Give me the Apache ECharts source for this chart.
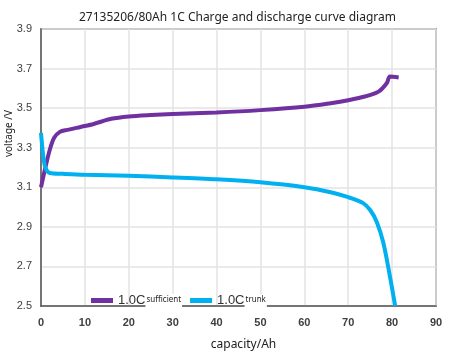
<!DOCTYPE html>
<html><head><meta charset="utf-8">
<script src="https://cdn.jsdelivr.net/npm/echarts@6/dist/echarts.min.js"></script>
<style>html,body{margin:0;padding:0;background:#fff}#c{width:453px;height:358px}</style>
</head><body><div id="c"></div>
<script>
const titleText = '27135206/80Ah 1C Charge and discharge curve diagram';
const xName = 'capacity/Ah';
const yName = 'voltage /V';
const xTicks = [0,10,20,30,40,50,60,70,80,90];
const yTicks = [2.5,2.7,2.9,3.1,3.3,3.5,3.7,3.9];
const chargeName = '1.0C sufficient';
const dischargeName = '1.0C trunk';
const chargeCap  = [0,1,2,3,4.3,6,9,12,16,20,25,30,40,50,60,66,70,74,77,78.8,79.5,81.5];
const chargeVolt = [3.10,3.20,3.29,3.35,3.38,3.39,3.405,3.42,3.446,3.458,3.465,3.47,3.478,3.49,3.507,3.525,3.54,3.56,3.585,3.627,3.66,3.655];
const dischargeCap  = [0,0.5,1,2,5,10,20,30,40,50,60,66,70,73.4,75,76.5,78,79.5,80.7];
const dischargeVolt = [3.375,3.26,3.20,3.172,3.168,3.163,3.158,3.15,3.14,3.125,3.10,3.075,3.05,3.02,2.985,2.925,2.82,2.65,2.5];

const zip = (a,b) => a.map((v,i)=>[v,b[i]]);
const chart = echarts.init(document.getElementById('c'));
const legendFmt = n => { const p = n.split(' '); return '{a|' + p[0] + '}{b|' + p[1] + '}'; };
chart.setOption({
  animation:false,
  textStyle:{fontFamily:'Noto Sans'},
  title:{text:titleText,left:79,top:9,padding:[3,10,4,0],backgroundColor:'#fff',
    textStyle:{fontSize:12,fontWeight:'normal',color:'#222',fontFamily:'Noto Sans'}},
  grid:{left:41,right:17,top:29,bottom:52,show:true,borderColor:'#595959',borderWidth:1.5,backgroundColor:'#fff'},
  legend:{left:86,top:289,itemWidth:22,itemHeight:5,itemGap:8,icon:'rect',
    data:[chargeName,dischargeName],
    formatter:legendFmt,
    textStyle:{rich:{
      a:{fontSize:13,color:'#333',fontFamily:'Liberation Sans'},
      b:{fontSize:8,color:'#222',backgroundColor:'#fff',padding:[2,1,3,1],verticalAlign:'bottom',fontFamily:'Noto Sans'}
    }}},
  xAxis:{type:'value',min:xTicks[0],max:xTicks[xTicks.length-1],interval:10,
    name:xName,nameLocation:'middle',nameGap:33,
    nameTextStyle:{fontSize:12,color:'#222',padding:[0,0,0,10]},
    axisLine:{show:true,lineStyle:{color:'#595959',width:1.5}},
    axisTick:{show:false},
    axisLabel:{fontSize:11,color:'#404040',margin:11,fontFamily:'Liberation Sans',fontWeight:'bold'},
    splitLine:{show:true,lineStyle:{color:'#e3e3e3',width:1.5}}},
  yAxis:{type:'value',min:yTicks[0],max:yTicks[yTicks.length-1],
    axisLine:{show:true,lineStyle:{color:'#595959',width:1.5}},
    axisTick:{show:false,customValues:yTicks},
    axisLabel:{customValues:yTicks,fontSize:11,color:'#404040',margin:9,fontFamily:'Liberation Sans',
      formatter:v=>v.toFixed(1)},
    splitLine:{show:true,lineStyle:{color:'#e3e3e3',width:1.5}}},
  graphic:[{type:'text',left:4,top:110,rotation:Math.PI/2,
    style:{text:yName,fontSize:10,fill:'#222',fontFamily:'Noto Sans'}}],
  series:[
    {name:chargeName,type:'line',data:zip(chargeCap,chargeVolt),smooth:0.3,showSymbol:false,
      lineStyle:{color:'#7030A0',width:4},itemStyle:{color:'#7030A0'}},
    {name:dischargeName,type:'line',data:zip(dischargeCap,dischargeVolt),smooth:0.3,showSymbol:false,
      lineStyle:{color:'#00B0F0',width:4},itemStyle:{color:'#00B0F0'}}
  ]
});
</script></body></html>
